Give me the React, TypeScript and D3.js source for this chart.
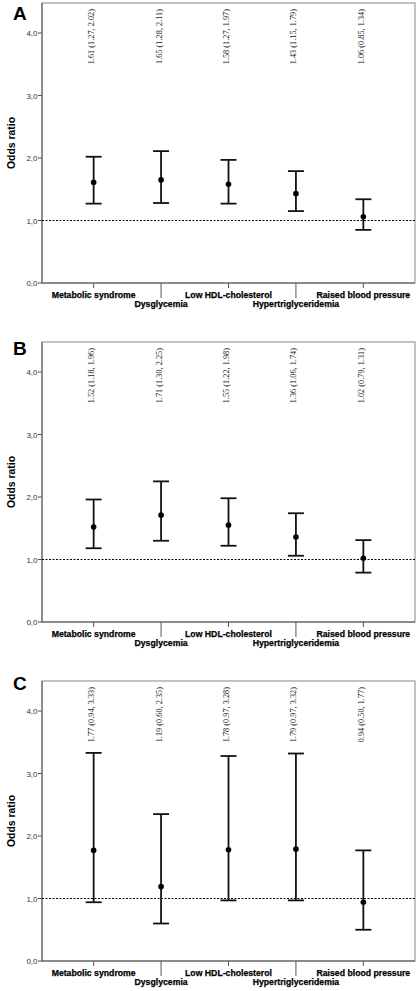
import React from "react";
import * as d3 from "d3";

const categories = ["Metabolic syndrome", "Dysglycemia", "Low HDL-cholesterol", "Hypertriglyceridemia", "Raised blood pressure"];
const panelLabels = ["A", "B", "C"];
const orA = [1.61, 1.65, 1.58, 1.43, 1.06];
const loA = [1.27, 1.28, 1.27, 1.15, 0.85];
const hiA = [2.02, 2.11, 1.97, 1.79, 1.34];
const orB = [1.52, 1.71, 1.55, 1.36, 1.02];
const loB = [1.18, 1.30, 1.22, 1.06, 0.79];
const hiB = [1.96, 2.25, 1.98, 1.74, 1.31];
const orC = [1.77, 1.19, 1.78, 1.79, 0.94];
const loC = [0.94, 0.60, 0.97, 0.97, 0.50];
const hiC = [3.33, 2.35, 3.28, 3.32, 1.77];
const yTicks = [0, 1, 2, 3, 4];
const yTickLabels = ["0,0", "1,0", "2,0", "3,0", "4,0"];

const panels = [
  { or: orA, lo: loA, hi: hiA },
  { or: orB, lo: loB, hi: hiB },
  { or: orC, lo: loC, hi: hiC },
];

const W = 418, H = 991;
const left = 42, right = 415;
const panelH = 339;
const frameTop0 = 3;
const plotH = 280;
const letterDy = [17, 13, 9];

function Panel({ idx }: { idx: number }) {
  const p = panels[idx];
  const top = frameTop0 + idx * panelH;
  const bottom = top + plotH;
  const y = d3.scaleLinear().domain([0, 4.48]).range([bottom, top]);
  const x = d3.scalePoint<string>().domain(categories).range([left, right]).padding(0.766);
  return (
    <g>
      <text x={13} y={top + letterDy[idx]} fontFamily="Liberation Sans, Arial, sans-serif" fontWeight="bold" fontSize={19}>{panelLabels[idx]}</text>
      <rect x={left} y={top} width={right - left} height={plotH} fill="#fff" stroke="#888" strokeWidth={1} />
      <line x1={left} x2={left} y1={top} y2={bottom} stroke="#555" />
      <line x1={left} x2={right} y1={bottom} y2={bottom} stroke="#555" />
      {yTicks.map((t, i) => (
        <g key={t}>
          <line x1={left - 4} x2={left} y1={y(t)} y2={y(t)} stroke="#555" />
          <text x={left - 4.5} y={y(t) + 3} textAnchor="end" fontFamily="Liberation Sans, Arial, sans-serif" fontSize={8} fill="#333">{yTickLabels[i]}</text>
        </g>
      ))}
      <text transform={`translate(15,${(top + bottom) / 2}) rotate(-90)`} textAnchor="middle" fontFamily="Liberation Sans, Arial, sans-serif" fontWeight="bold" fontSize={10.4}>Odds ratio</text>
      <line x1={left} x2={right} y1={y(1)} y2={y(1)} stroke="#000" strokeDasharray="2,1.5" strokeWidth={1} />
      {categories.map((c, i) => {
        const cx = x(c)!;
        const odd = i % 2 === 1;
        return (
          <g key={c}>
            <line x1={cx} x2={cx} y1={bottom} y2={bottom + (odd ? 15 : 5)} stroke="#555" />
            <text x={cx} y={bottom + (odd ? 24 : 14.5)} textAnchor="middle" fontFamily="Liberation Sans, Arial, sans-serif" fontWeight="bold" fontSize={8.7} stroke="#000" strokeWidth={0.25}>{c}</text>
            <line x1={cx} x2={cx} y1={y(p.lo[i])} y2={y(p.hi[i])} stroke="#111" strokeWidth={1.8} />
            <line x1={cx - 8} x2={cx + 8} y1={y(p.lo[i])} y2={y(p.lo[i])} stroke="#111" strokeWidth={1.8} />
            <line x1={cx - 8} x2={cx + 8} y1={y(p.hi[i])} y2={y(p.hi[i])} stroke="#111" strokeWidth={1.8} />
            <circle cx={cx} cy={y(p.or[i])} r={2.8} fill="#000" />
            <text transform={`translate(${cx + 0.5},${top + 6}) rotate(-90)`} textAnchor="end" fontFamily="Liberation Serif, Times New Roman, serif" fontSize={8.3} fill="#222">
              {`${p.or[i].toFixed(2)} (${p.lo[i].toFixed(2)}, ${p.hi[i].toFixed(2)})`}
            </text>
          </g>
        );
      })}
    </g>
  );
}

export default function App() {
  return (
    <svg width={W} height={H} style={{ position: "absolute", left: 0, top: 0, background: "#fff" }}>
      <rect x={0} y={0} width={W} height={H} fill="#fff" />
      {panels.map((_, i) => <Panel key={i} idx={i} />)}
    </svg>
  );
}
